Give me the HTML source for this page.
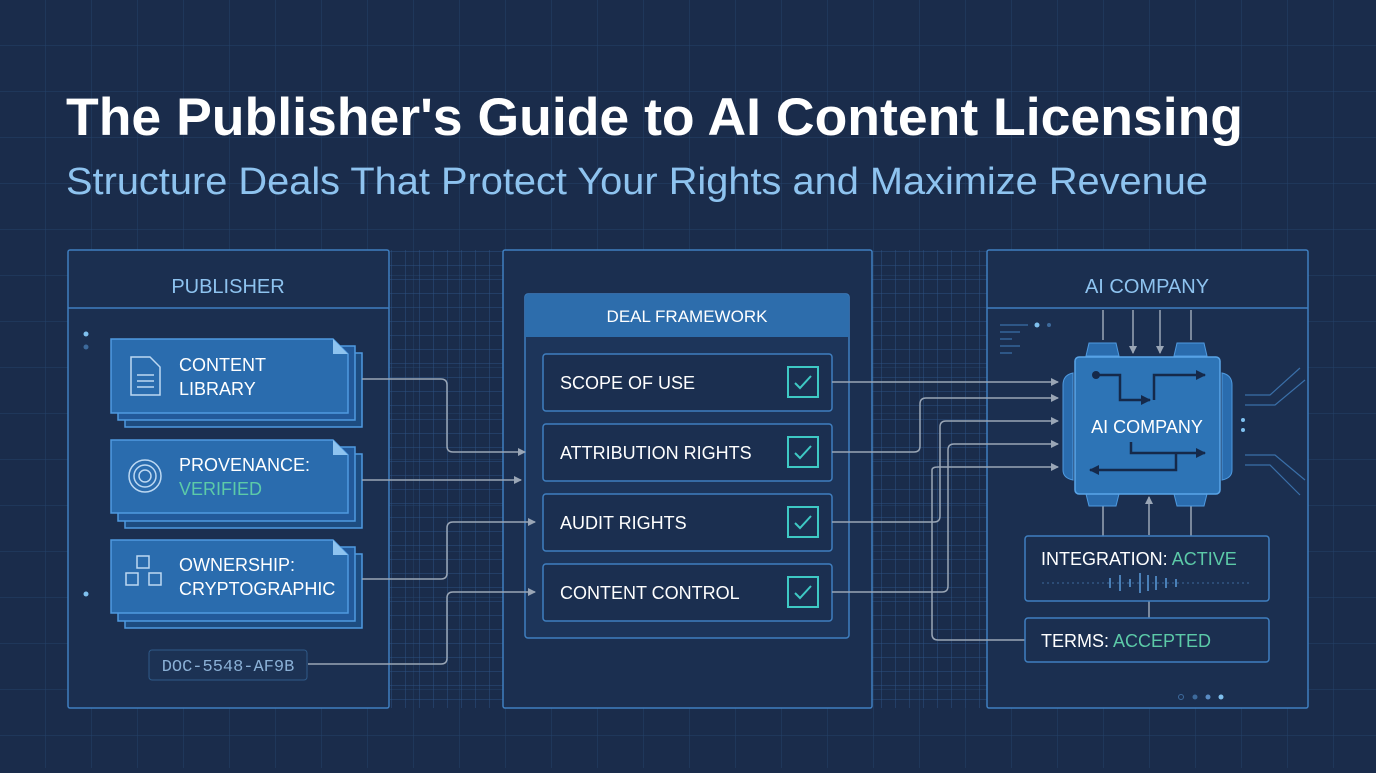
<!DOCTYPE html>
<html><head><meta charset="utf-8"><style>
body{margin:0;width:1376px;height:768px;overflow:hidden;background:#1a2c4b;font-family:"Liberation Sans",sans-serif}
</style></head><body>
<svg width="1376" height="768" xmlns="http://www.w3.org/2000/svg" font-family="Liberation Sans, sans-serif">
<defs>
<pattern id="g" width="46" height="46" patternUnits="userSpaceOnUse"><path d="M46 0V46H0" fill="none" stroke="#24426a" stroke-width="1"/></pattern>
<pattern id="f" width="14" height="14" patternUnits="userSpaceOnUse"><path d="M14 0V14H0" fill="none" stroke="#2c5180" stroke-width="1"/></pattern>
<marker id="a" markerWidth="8" markerHeight="8" refX="7" refY="4" orient="auto" markerUnits="userSpaceOnUse"><path d="M0 0L8 4L0 8z" fill="#9aa6b6"/></marker>
<marker id="b" markerWidth="10" markerHeight="10" refX="9" refY="5" orient="auto" markerUnits="userSpaceOnUse"><path d="M0 0L10 5L0 10z" fill="#15294a"/></marker>
</defs>
<rect width="1376" height="768" fill="#1a2c4b"/>
<rect width="1376" height="768" fill="url(#g)"/>
<rect x="390" y="250" width="113" height="458" fill="url(#f)"/>
<rect x="872" y="250" width="115" height="458" fill="url(#f)"/>
<text x="66" y="135" font-size="53" font-weight="bold" fill="#ffffff" textLength="1177" lengthAdjust="spacingAndGlyphs">The Publisher's Guide to AI Content Licensing</text>
<text x="66" y="194" font-size="38" fill="#8ec3ef" textLength="1142" lengthAdjust="spacingAndGlyphs">Structure Deals That Protect Your Rights and Maximize Revenue</text>

<!-- panels -->
<g fill="#1b2f50" stroke="#3f7fc0" stroke-width="1.5">
<rect x="68" y="250" width="321" height="458" rx="2"/>
<rect x="503" y="250" width="369" height="458" rx="2"/>
<rect x="987" y="250" width="321" height="458" rx="2"/>
</g>
<line x1="68" y1="308" x2="389" y2="308" stroke="#3f7fc0" stroke-width="1.5"/>
<line x1="987" y1="308" x2="1308" y2="308" stroke="#3f7fc0" stroke-width="1.5"/>
<text x="228" y="293" font-size="20" fill="#8ec3ef" text-anchor="middle">PUBLISHER</text>
<text x="1147" y="293" font-size="20" fill="#8ec3ef" text-anchor="middle">AI COMPANY</text>
<circle cx="86" cy="334" r="2.5" fill="#7fc0ee"/><circle cx="86" cy="347" r="2.5" fill="#3d6a9c"/><circle cx="86" cy="594" r="2.5" fill="#7fc0ee"/>

<!-- cards -->
<g stroke="#4f9ae0" stroke-width="1.5">
<rect x="125" y="353" width="237" height="74" fill="#1d4c80"/><rect x="118" y="346" width="237" height="74" fill="#22599a"/>
<path d="M111 339H333L348 354V413H111Z" fill="#2a6cae"/>
<rect x="125" y="454" width="237" height="74" fill="#1d4c80"/><rect x="118" y="447" width="237" height="74" fill="#22599a"/>
<path d="M111 440H333L348 455V513H111Z" fill="#2a6cae"/>
<rect x="125" y="554" width="237" height="74" fill="#1d4c80"/><rect x="118" y="547" width="237" height="74" fill="#22599a"/>
<path d="M111 540H333L348 555V613H111Z" fill="#2a6cae"/>
</g>
<path d="M333 339V354H348Z" fill="#8ec3ef"/><path d="M333 440V455H348Z" fill="#8ec3ef"/><path d="M333 540V555H348Z" fill="#8ec3ef"/>
<g font-size="18" fill="#ffffff">
<text x="179" y="371">CONTENT</text><text x="179" y="395">LIBRARY</text>
<text x="179" y="471">PROVENANCE:</text><text x="179" y="495" fill="#5ccaa8">VERIFIED</text>
<text x="179" y="571">OWNERSHIP:</text><text x="179" y="595">CRYPTOGRAPHIC</text>
</g>
<g fill="none" stroke="#bcd8f2" stroke-width="1.5">
<path d="M131 357H150L160 367V395H131Z"/><path d="M137 375H154M137 381H154M137 387H154"/>
<circle cx="145" cy="476" r="6"/><circle cx="145" cy="476" r="11"/><circle cx="145" cy="476" r="16"/>
<rect x="137" y="556" width="12" height="12"/><rect x="126" y="573" width="12" height="12"/><rect x="149" y="573" width="12" height="12"/>
</g>
<rect x="149" y="650" width="158" height="30" rx="3" fill="#1c3254" stroke="#2f5a88"/>
<text x="228" y="671" font-size="17" fill="#8ab0d6" text-anchor="middle" font-family="Liberation Mono, monospace">DOC-5548-AF9B</text>

<!-- deal framework -->
<rect x="525" y="294" width="324" height="344" rx="3" fill="#1d355a" stroke="#3f7fc0" stroke-width="1.5"/>
<path d="M525 297a3 3 0 0 1 3-3h318a3 3 0 0 1 3 3V337H525Z" fill="#2d6dac"/>
<text x="687" y="322" font-size="17" fill="#ffffff" text-anchor="middle">DEAL FRAMEWORK</text>
<g fill="#1b2f50" stroke="#3f7fc0" stroke-width="1.5">
<rect x="543" y="354" width="289" height="57" rx="3"/><rect x="543" y="424" width="289" height="57" rx="3"/>
<rect x="543" y="494" width="289" height="57" rx="3"/><rect x="543" y="564" width="289" height="57" rx="3"/>
</g>
<g font-size="18" fill="#ffffff">
<text x="560" y="389">SCOPE OF USE</text><text x="560" y="459">ATTRIBUTION RIGHTS</text>
<text x="560" y="529">AUDIT RIGHTS</text><text x="560" y="599">CONTENT CONTROL</text>
</g>
<g fill="none" stroke="#3ec9c4" stroke-width="2">
<rect x="788" y="367" width="30" height="30"/><rect x="788" y="437" width="30" height="30"/>
<rect x="788" y="507" width="30" height="30"/><rect x="788" y="577" width="30" height="30"/>
<path d="M795 383l5 5l11 -12M795 453l5 5l11 -12M795 523l5 5l11 -12M795 593l5 5l11 -12"/>
</g>

<!-- connectors -->
<g fill="none" stroke="#9aa6b6" stroke-width="1.5" marker-end="url(#a)">
<path d="M362 379H441Q447 379 447 385V446Q447 452 453 452H525"/>
<path d="M362 480H521"/>
<path d="M362 579H441Q447 579 447 573V528Q447 522 453 522H535"/>
<path d="M308 664H441Q447 664 447 658V598Q447 592 453 592H535"/>
<path d="M832 382H1058"/>
<path d="M832 452H914Q920 452 920 446V404Q920 398 926 398H1058"/>
<path d="M832 522H934Q940 522 940 516V427Q940 421 946 421H1058"/>
<path d="M832 592H942Q948 592 948 586V450Q948 444 954 444H1058"/>
<path d="M1025 640H938Q932 640 932 634V470Q932 467 938 467H1058"/>
<path d="M1133 310V353"/><path d="M1160 310V353"/><path d="M1149 535V497"/>
</g>
<path d="M1103 310V340M1191 310V340M1103 492V536M1191 492V536M1149 601V618" stroke="#9aa6b6" stroke-width="1.5"/>

<!-- chip -->
<g fill="#2a6cae" stroke="#4f9ae0">
<path d="M1089 343H1116L1119 356H1086Z"/><path d="M1177 343H1204L1207 356H1174Z"/>
<path d="M1086 494H1119L1116 506H1089Z"/><path d="M1174 494H1207L1204 506H1177Z"/>
<path d="M1073 373Q1063 375 1063 385V470Q1063 478 1073 480Z"/><path d="M1222 373Q1232 375 1232 385V470Q1232 478 1222 480Z"/>
</g>
<rect x="1075" y="357" width="145" height="137" rx="4" fill="#2d74b6" stroke="#5aa5e8" stroke-width="1.5"/>
<g fill="none" stroke="#15294a" stroke-width="2.5">
<path d="M1096 375H1120V400H1150" marker-end="url(#b)"/><path d="M1154 400V375H1205" marker-end="url(#b)"/>
<path d="M1131 442V453H1205" marker-end="url(#b)"/><path d="M1176 453V470H1090" marker-end="url(#b)"/>
</g>
<circle cx="1096" cy="375" r="4" fill="#15294a"/>
<text x="1147" y="433" font-size="18" fill="#ffffff" text-anchor="middle">AI COMPANY</text>
<g stroke="#3a6fa8" stroke-width="1.2" fill="none">
<path d="M1000 325H1028M1000 332H1020M1000 339H1012M1000 346H1020M1000 353H1012"/>
<path d="M1245 395H1270L1300 368M1245 405H1275L1305 380M1245 455H1275L1305 480M1245 465H1270L1300 495"/>
</g>
<circle cx="1037" cy="325" r="2.5" fill="#7fc0ee"/><circle cx="1049" cy="325" r="2" fill="#3d6a9c"/>
<circle cx="1243" cy="420" r="2" fill="#7fc0ee"/><circle cx="1243" cy="430" r="2" fill="#7fc0ee"/>
<circle cx="1181" cy="697" r="2.5" fill="none" stroke="#3d6a9c"/><circle cx="1195" cy="697" r="2.5" fill="#3d6a9c"/><circle cx="1208" cy="697" r="2.5" fill="#5a8cc4"/><circle cx="1221" cy="697" r="2.5" fill="#7fc0ee"/>

<rect x="1025" y="536" width="244" height="65" rx="3" fill="#1b2f50" stroke="#3f7fc0" stroke-width="1.5"/>
<rect x="1025" y="618" width="244" height="44" rx="3" fill="#1b2f50" stroke="#3f7fc0" stroke-width="1.5"/>
<text x="1041" y="565" font-size="18" fill="#ffffff">INTEGRATION: <tspan fill="#5ccaa8">ACTIVE</tspan></text>
<text x="1041" y="647" font-size="18" fill="#ffffff">TERMS: <tspan fill="#5ccaa8">ACCEPTED</tspan></text>
<path d="M1042 583H1250" stroke="#3d6a9c" stroke-dasharray="2 3"/>
<path d="M1110 578V588M1120 575V591M1130 579V587M1140 573V593M1148 575V591M1156 576V590M1166 578V588M1176 579V587" stroke="#4a80b8" stroke-width="2"/>
</svg>
</body></html>
